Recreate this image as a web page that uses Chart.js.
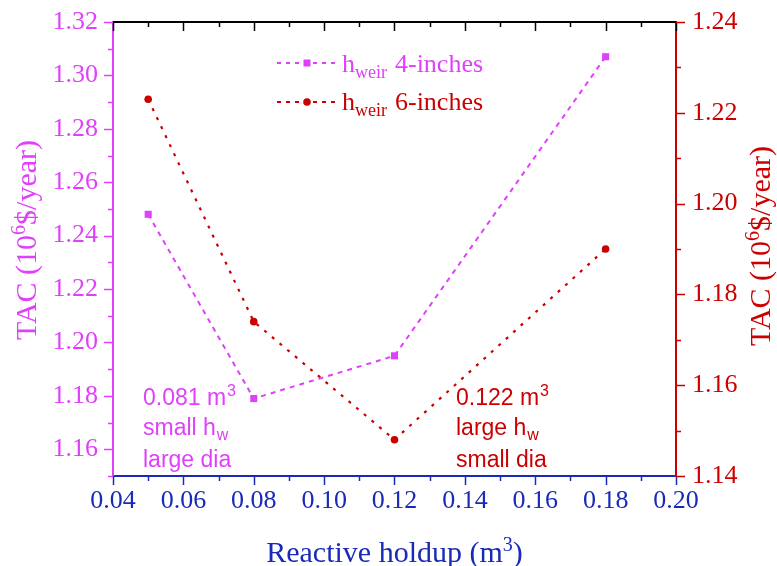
<!DOCTYPE html>
<html>
<head>
<meta charset="utf-8">
<script src="https://cdn.jsdelivr.net/npm/chart.js@4.4.1/dist/chart.umd.min.js"></script>
<style>
  html, body { margin: 0; padding: 0; background: #ffffff; }
  #wrap { width: 777px; height: 566px; }
</style>
</head>
<body>
<div id="wrap"><canvas id="c" width="777" height="566"></canvas></div>
<script>
// Reactive holdup (m3) and total annual cost (10^6 $/year)
const holdup = [0.05, 0.08, 0.12, 0.18];
const tacWeir4 = [1.248, 1.179, 1.195, 1.307];
const tacWeir6 = [1.223, 1.174, 1.148, 1.190];

const xTickValues = [0.04, 0.06, 0.08, 0.10, 0.12, 0.14, 0.16, 0.18, 0.20];
const leftTickValues = [1.16, 1.18, 1.20, 1.22, 1.24, 1.26, 1.28, 1.30, 1.32];
const rightTickValues = [1.14, 1.16, 1.18, 1.20, 1.22, 1.24];
const xRange = [0.04, 0.20];
const leftRange = [1.15, 1.32];
const rightRange = [1.14, 1.24];

const MAGENTA = '#e040fb';
const RED = '#cc0000';
const BLUE = '#1a2ab8';
const SERIF = '"Liberation Serif", "Times New Roman", serif';
const SANS = '"Liberation Sans", Arial, sans-serif';

// minor tick positions sit halfway between majors
function withMinors(majors, lo, hi) {
  const out = majors.map(v => ({ v, major: true }));
  for (let i = 0; i < majors.length - 1; i++) {
    out.push({ v: (majors[i] + majors[i + 1]) / 2, major: false });
  }
  const step = majors[1] - majors[0];
  const below = majors[0] - step / 2;
  if (below >= lo - 1e-9) out.push({ v: below, major: false });
  const above = majors[majors.length - 1] + step / 2;
  if (above <= hi + 1e-9) out.push({ v: above, major: false });
  return out;
}

// draws a run of text pieces of mixed size (sub/superscripts)
function richText(ctx, parts, x, y, align) {
  let total = 0;
  parts.forEach(p => {
    ctx.font = p.size + 'px ' + p.family;
    p.w = ctx.measureText(p.t).width + (p.gap || 0) + (p.pre || 0);
    total += p.w;
  });
  let cx = align === 'center' ? x - total / 2 : x;
  ctx.textBaseline = 'alphabetic';
  ctx.textAlign = 'left';
  parts.forEach(p => {
    ctx.font = p.size + 'px ' + p.family;
    ctx.fillStyle = p.color;
    ctx.fillText(p.t, cx + (p.pre || 0), y + (p.dy || 0));
    cx += p.w;
  });
}

const decorations = {
  id: 'decorations',
  afterDraw(chart) {
    const ctx = chart.ctx;
    const a = chart.chartArea;
    const sx = chart.scales.x, sy = chart.scales.y, sy1 = chart.scales.y1;
    ctx.save();

    // top frame line
    ctx.strokeStyle = '#000000';
    ctx.lineWidth = 2;
    ctx.beginPath();
    ctx.moveTo(a.left, a.top);
    ctx.lineTo(a.right, a.top);
    ctx.stroke();

    // tick marks
    ctx.lineWidth = 1.5;
    const MAJ = 9, MIN = 5;
    withMinors(xTickValues, xRange[0], xRange[1]).forEach(t => {
      const px = Math.round(sx.getPixelForValue(t.v)) + 0.5;
      const len = t.major ? MAJ : MIN;
      ctx.strokeStyle = BLUE;
      ctx.beginPath(); ctx.moveTo(px, a.bottom); ctx.lineTo(px, a.bottom + len); ctx.stroke();
      ctx.strokeStyle = '#000000';
      ctx.beginPath(); ctx.moveTo(px, a.top); ctx.lineTo(px, a.top + len); ctx.stroke();
    });
    ctx.strokeStyle = MAGENTA;
    withMinors(leftTickValues, leftRange[0], leftRange[1]).forEach(t => {
      const py = Math.round(sy.getPixelForValue(t.v)) + 0.5;
      const len = t.major ? MAJ : MIN;
      ctx.beginPath(); ctx.moveTo(a.left, py); ctx.lineTo(a.left - len, py); ctx.stroke();
    });
    ctx.strokeStyle = RED;
    withMinors(rightTickValues, rightRange[0], rightRange[1]).forEach(t => {
      const py = Math.round(sy1.getPixelForValue(t.v)) + 0.5;
      const len = t.major ? MAJ : MIN;
      ctx.beginPath(); ctx.moveTo(a.right, py); ctx.lineTo(a.right + len, py); ctx.stroke();
    });

    // legend
    const rows = [
      { ds: chart.data.datasets[0], text: '4-inches', y: a.top + 41, base: a.top + 50 },
      { ds: chart.data.datasets[1], text: '6-inches', y: a.top + 80, base: a.top + 88 }
    ];
    const lx0 = a.left + 164, lx1 = a.left + 224, lmid = (lx0 + lx1) / 2;
    rows.forEach(r => {
      const c = r.ds.borderColor;
      ctx.strokeStyle = c;
      ctx.lineWidth = 2;
      ctx.setLineDash([4, 5]);
      ctx.beginPath(); ctx.moveTo(lx0, r.y); ctx.lineTo(lx1, r.y); ctx.stroke();
      ctx.setLineDash([]);
      ctx.fillStyle = c;
      if (r.ds.pointStyle === 'rect') {
        ctx.fillRect(lmid - 3.5, r.y - 3.5, 7, 7);
      } else {
        ctx.beginPath(); ctx.arc(lmid, r.y, 3.8, 0, Math.PI * 2); ctx.fill();
      }
      richText(ctx, [
        { t: 'h', size: 26, family: SERIF, color: c },
        { t: 'weir', size: 18, family: SERIF, color: c, dy: 6, gap: 8 },
        { t: r.text, size: 26, family: SERIF, color: c }
      ], lx1 + 5, r.base, 'left');
    });

    // annotations
    const ann = [
      { color: MAGENTA, x: a.left + 30, lines: [
        [{ t: '0.081 m' }, { t: '3', sup: true }],
        [{ t: 'small h' }, { t: 'w', sub: true }],
        [{ t: 'large dia' }]
      ] },
      { color: RED, x: a.left + 343, lines: [
        [{ t: '0.122 m' }, { t: '3', sup: true }],
        [{ t: 'large h' }, { t: 'w', sub: true }],
        [{ t: 'small dia' }]
      ] }
    ];
    const baselines = [a.bottom - 71, a.bottom - 41, a.bottom - 9];
    ann.forEach(an => {
      an.lines.forEach((ln, i) => {
        richText(ctx, ln.map(s => ({
          t: s.t,
          size: (s.sup || s.sub) ? 16 : 23,
          family: SANS,
          color: an.color,
          dy: s.sup ? -9 : (s.sub ? 5 : 0),
          pre: (s.sup || s.sub) ? 1 : 0
        })), an.x, baselines[i], 'left');
      });
    });

    // axis titles
    const yTitle = c => [
      { t: 'TAC (10', size: 30, family: SERIF, color: c },
      { t: '6', size: 20, family: SERIF, color: c, dy: -11 },
      { t: '$/year)', size: 30, family: SERIF, color: c }
    ];
    ctx.save();
    ctx.translate(36, (a.top + a.bottom) / 2 - 9);
    ctx.rotate(-Math.PI / 2);
    richText(ctx, yTitle(MAGENTA), 0, 0, 'center');
    ctx.restore();
    ctx.save();
    ctx.translate(770, (a.top + a.bottom) / 2 - 3);
    ctx.rotate(-Math.PI / 2);
    richText(ctx, yTitle(RED), 0, 0, 'center');
    ctx.restore();
    richText(ctx, [
      { t: 'Reactive holdup (m', size: 30, family: SERIF, color: BLUE },
      { t: '3', size: 20, family: SERIF, color: BLUE, dy: -11 },
      { t: ')', size: 30, family: SERIF, color: BLUE }
    ], (a.left + a.right) / 2, 562, 'center');

    ctx.restore();
  }
};

const tickFont = { family: SERIF, size: 26 };

new Chart(document.getElementById('c'), {
  type: 'line',
  data: {
    datasets: [
      {
        label: 'h_weir 4-inches',
        data: holdup.map((x, i) => ({ x, y: tacWeir4[i] })),
        yAxisID: 'y',
        borderColor: MAGENTA,
        backgroundColor: MAGENTA,
        borderWidth: 2,
        borderDash: [5, 5],
        pointStyle: 'rect',
        pointRadius: 5,
        pointBorderWidth: 0,
        tension: 0,
        fill: false
      },
      {
        label: 'h_weir 6-inches',
        data: holdup.map((x, i) => ({ x, y: tacWeir6[i] })),
        yAxisID: 'y1',
        borderColor: RED,
        backgroundColor: RED,
        borderWidth: 2.2,
        borderDash: [3, 7],
        pointStyle: 'circle',
        pointRadius: 3.8,
        pointBorderWidth: 0,
        tension: 0,
        fill: false
      }
    ]
  },
  options: {
    responsive: false,
    devicePixelRatio: 1,
    animation: false,
    layout: { padding: { top: 22, left: 0, right: 0, bottom: 0 } },
    plugins: { legend: { display: false }, tooltip: { enabled: false } },
    scales: {
      x: {
        type: 'linear',
        position: 'bottom',
        min: xRange[0], max: xRange[1],
        afterBuildTicks: s => { s.ticks = xTickValues.map(v => ({ value: v })); },
        afterFit: s => { s.height = 90; s.paddingLeft = 0; s.paddingRight = 0; },
        grid: { display: false, drawTicks: false },
        border: { display: true, color: BLUE, width: 2 },
        ticks: { color: BLUE, font: tickFont, padding: 10, maxRotation: 0, autoSkip: false,
                 callback: v => Number(v).toFixed(2) }
      },
      y: {
        type: 'linear',
        position: 'left',
        min: leftRange[0], max: leftRange[1],
        afterBuildTicks: s => { s.ticks = leftTickValues.map(v => ({ value: v })); },
        afterFit: s => { s.width = 113; s.paddingTop = 0; s.paddingBottom = 0; },
        grid: { display: false, drawTicks: false },
        border: { display: true, color: MAGENTA, width: 2 },
        ticks: { color: MAGENTA, font: tickFont, padding: 15, autoSkip: false,
                 callback: v => Number(v).toFixed(2) }
      },
      y1: {
        type: 'linear',
        position: 'right',
        min: rightRange[0], max: rightRange[1],
        afterBuildTicks: s => { s.ticks = rightTickValues.map(v => ({ value: v })); },
        afterFit: s => { s.width = 101; s.paddingTop = 0; s.paddingBottom = 0; },
        grid: { display: false, drawTicks: false },
        border: { display: true, color: RED, width: 2 },
        ticks: { color: RED, font: tickFont, padding: 16, autoSkip: false,
                 callback: v => Number(v).toFixed(2) }
      }
    }
  },
  plugins: [decorations]
});
</script>
</body>
</html>
